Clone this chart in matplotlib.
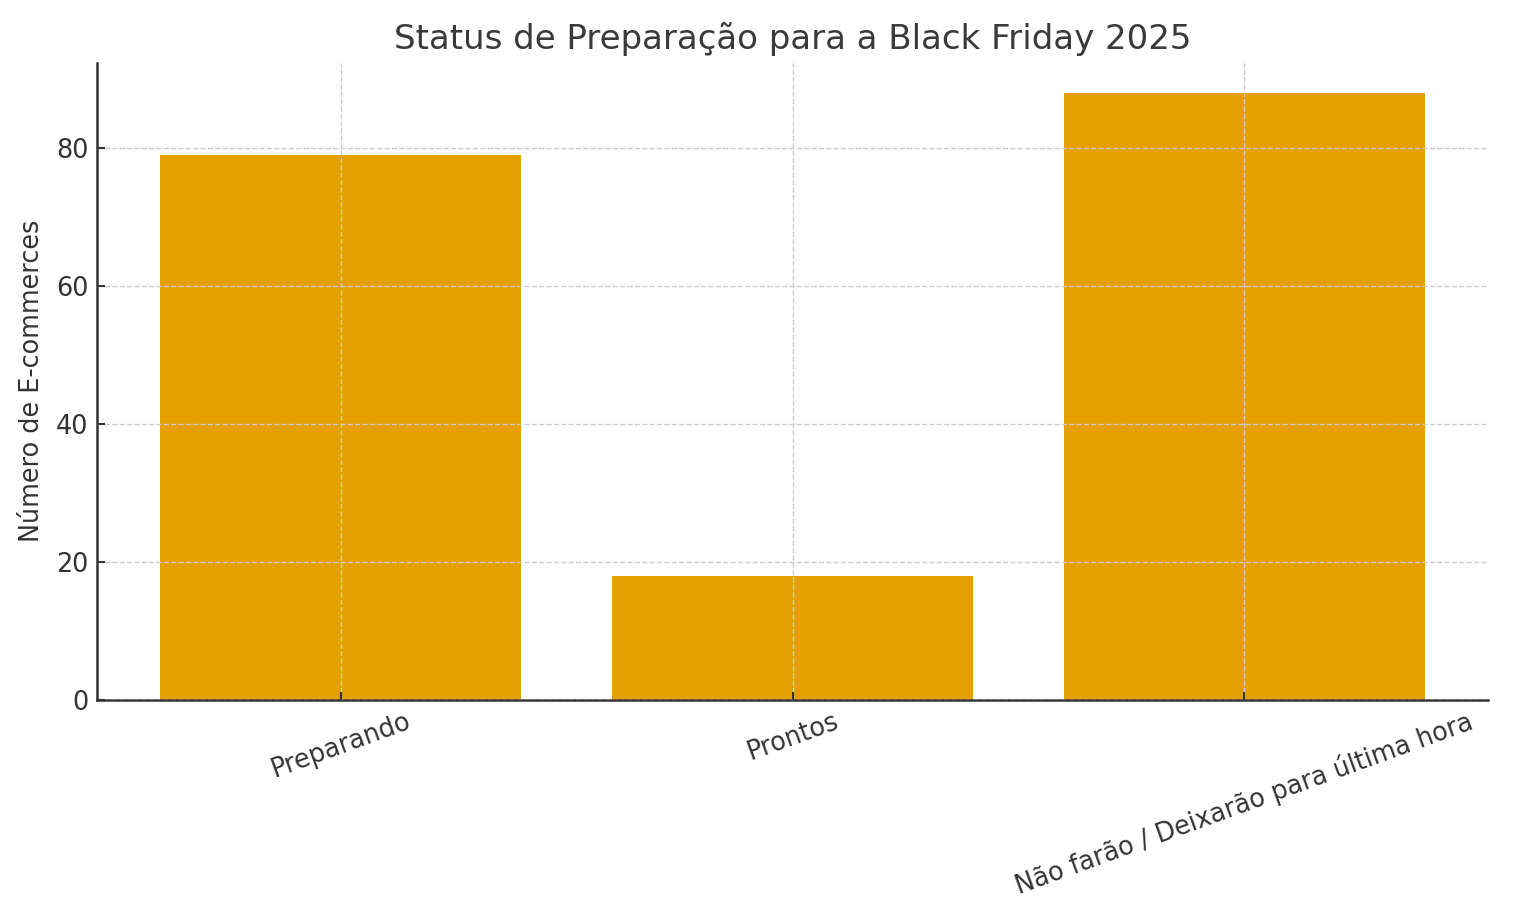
import matplotlib.pyplot as plt

# Data
categories = ['Preparando', 'Prontos', 'Não farão / Deixarão para última hora']
counts = [79, 18, 88]

bar_color = '#E69F00'
text_color = '#333333'

fig, ax = plt.subplots(figsize=(15.36, 9.22), dpi=100)
fig.subplots_adjust(left=0.063, right=0.969, top=0.932, bottom=0.241)

ax.bar(categories, counts, color=bar_color, width=0.8, zorder=1)

ax.set_title('Status de Preparação para a Black Friday 2025', fontsize=24.5, color='#3a3a3a', pad=10)
ax.set_ylabel('Número de E-commerces', fontsize=18.4, color=text_color, labelpad=8)

ax.tick_params(axis='both', direction='in', labelsize=18.4, colors=text_color, length=6, width=1.5, pad=6)
plt.setp(ax.get_xticklabels(), rotation=20, ha='center')

ax.grid(True, linestyle='--', color='#cccccc', linewidth=1, zorder=2)
ax.set_axisbelow(False)

for side in ['top', 'right']:
    ax.spines[side].set_visible(False)
for side in ['left', 'bottom']:
    ax.spines[side].set_color(text_color)
    ax.spines[side].set_linewidth(1.8)

fig.savefig('out.png', dpi=100)
